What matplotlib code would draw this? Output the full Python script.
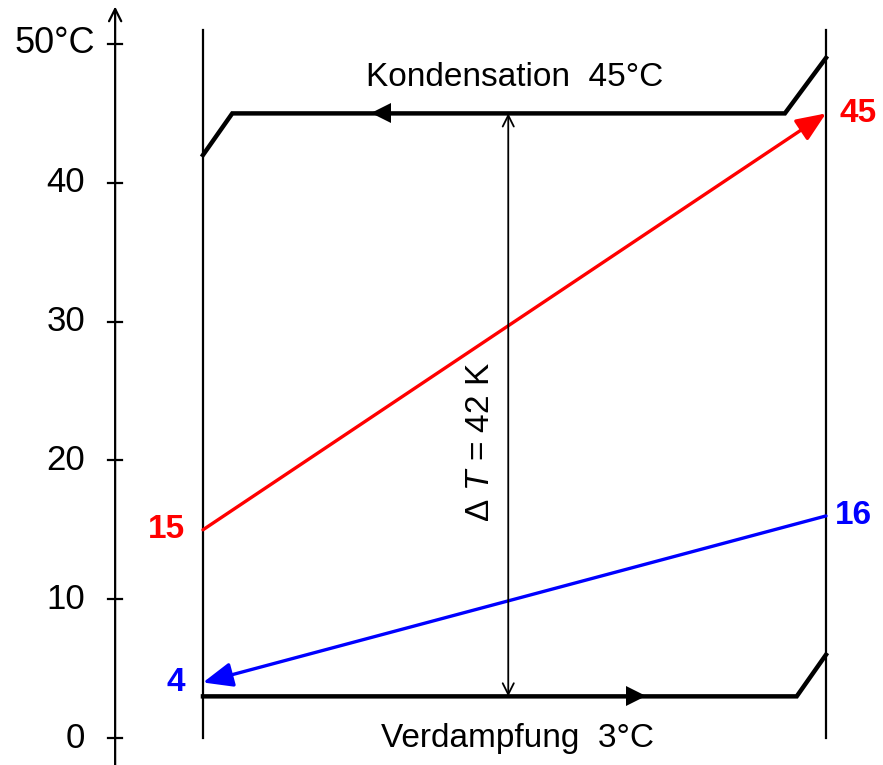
"""
Kältekreis - Temperaturverlauf Kondensation / Verdampfung
"""
import matplotlib
matplotlib.use("Agg")
import matplotlib.pyplot as plt

plt.rcParams["font.family"] = ["Liberation Sans", "DejaVu Sans"]
plt.rcParams["mathtext.fontset"] = "custom"
plt.rcParams["mathtext.rm"] = "Liberation Sans"
plt.rcParams["mathtext.it"] = "Liberation Sans:italic"

# Daten
y_ticks = [0, 10, 20, 30, 40, 50]
y_tick_labels = ["0", "10", "20", "30", "40", "50°C"]

# Kondensation (x: 0 = links, 10 = rechts)
cond_x = [0, 0.47, 9.34, 10]
cond_y = [42, 45, 45, 49]
# Verdampfung
evap_x = [0, 9.53, 10]
evap_y = [3, 3, 6]

# Wasser warm (rot) und kalt (blau)
hot_x = [0, 10]
hot_y = [15, 45]
cold_x = [10, 0]
cold_y = [16, 4]

t_cond = 45
t_evap = 3

fig = plt.figure(figsize=(8.83, 7.65), dpi=100)
ax = fig.add_axes([0, 0, 1, 1])
ax.set_xlim(-3.258, 10.915)
ax.set_ylim(-1.945, 53.17)
ax.axis("off")

# Temperaturachse
ax_x = -1.41
ax.annotate("", xy=(ax_x, 52.7), xytext=(ax_x, -1.95),
            arrowprops=dict(arrowstyle="->", lw=1.6, color="black",
                            mutation_scale=22, shrinkA=0, shrinkB=0))
for t, lab in zip(y_ticks, y_tick_labels):
    ax.plot([ax_x - 0.115, ax_x + 0.115], [t, t], color="black", lw=1.6)
    if lab.endswith("C"):
        ax.text(-1.73, t, lab, ha="right", va="center", fontsize=26)
    else:
        ax.text(-1.894, t, lab, ha="right", va="center", fontsize=25)

# Senkrechte Begrenzungslinien
ax.plot([0, 0], [0, 51], color="black", lw=1.6)
ax.plot([10, 10], [0, 51], color="black", lw=1.6)

# Kondensation
ax.plot(cond_x, cond_y, color="black", lw=3.2, solid_joinstyle="miter")
ax.plot([2.85], [t_cond], marker="<", color="black", ms=14, mew=0)
ax.text(5.0, 47.6, f"Kondensation  {t_cond}°C", ha="center", va="center", fontsize=24)

# Verdampfung
ax.plot(evap_x, evap_y, color="black", lw=3.2, solid_joinstyle="miter")
ax.plot([6.95], [t_evap], marker=">", color="black", ms=14, mew=0)
ax.text(5.05, 0.0, f"Verdampfung  {t_evap}°C", ha="center", va="center", fontsize=24)

# Wasserlinien
head = "-|>,head_length=0.6,head_width=0.25"
ax.annotate("", xy=(hot_x[1], hot_y[1]), xytext=(hot_x[0], hot_y[0]),
            arrowprops=dict(arrowstyle=head, color="red", lw=2.4,
                            mutation_scale=30, shrinkA=0, shrinkB=0))
ax.annotate("", xy=(cold_x[1], cold_y[1]), xytext=(cold_x[0], cold_y[0]),
            arrowprops=dict(arrowstyle=head, color="blue", lw=2.4,
                            mutation_scale=30, shrinkA=0, shrinkB=0))

ax.text(10.22, hot_y[1], str(hot_y[1]), color="red", fontsize=24, fontweight="bold",
        ha="left", va="center")
ax.text(-0.29, hot_y[0], str(hot_y[0]), color="red", fontsize=24, fontweight="bold",
        ha="right", va="center")
ax.text(10.14, cold_y[0], str(cold_y[0]), color="blue", fontsize=24,
        fontweight="bold", ha="left", va="center")
ax.text(-0.29, cold_y[1], str(cold_y[1]), color="blue", fontsize=24, fontweight="bold",
        ha="right", va="center")

# Delta T
dx = 4.9
ax.annotate("", xy=(dx, t_cond), xytext=(dx, t_evap),
            arrowprops=dict(arrowstyle="<->", color="black", lw=1.3,
                            mutation_scale=20, shrinkA=0, shrinkB=0))
ax.text(dx - 0.45, 21.3, r"$\Delta\ T$ = %d K" % (t_cond - t_evap), rotation=90,
        ha="center", va="center", fontsize=24)

plt.savefig("out.png", dpi=100)
plt.close()
